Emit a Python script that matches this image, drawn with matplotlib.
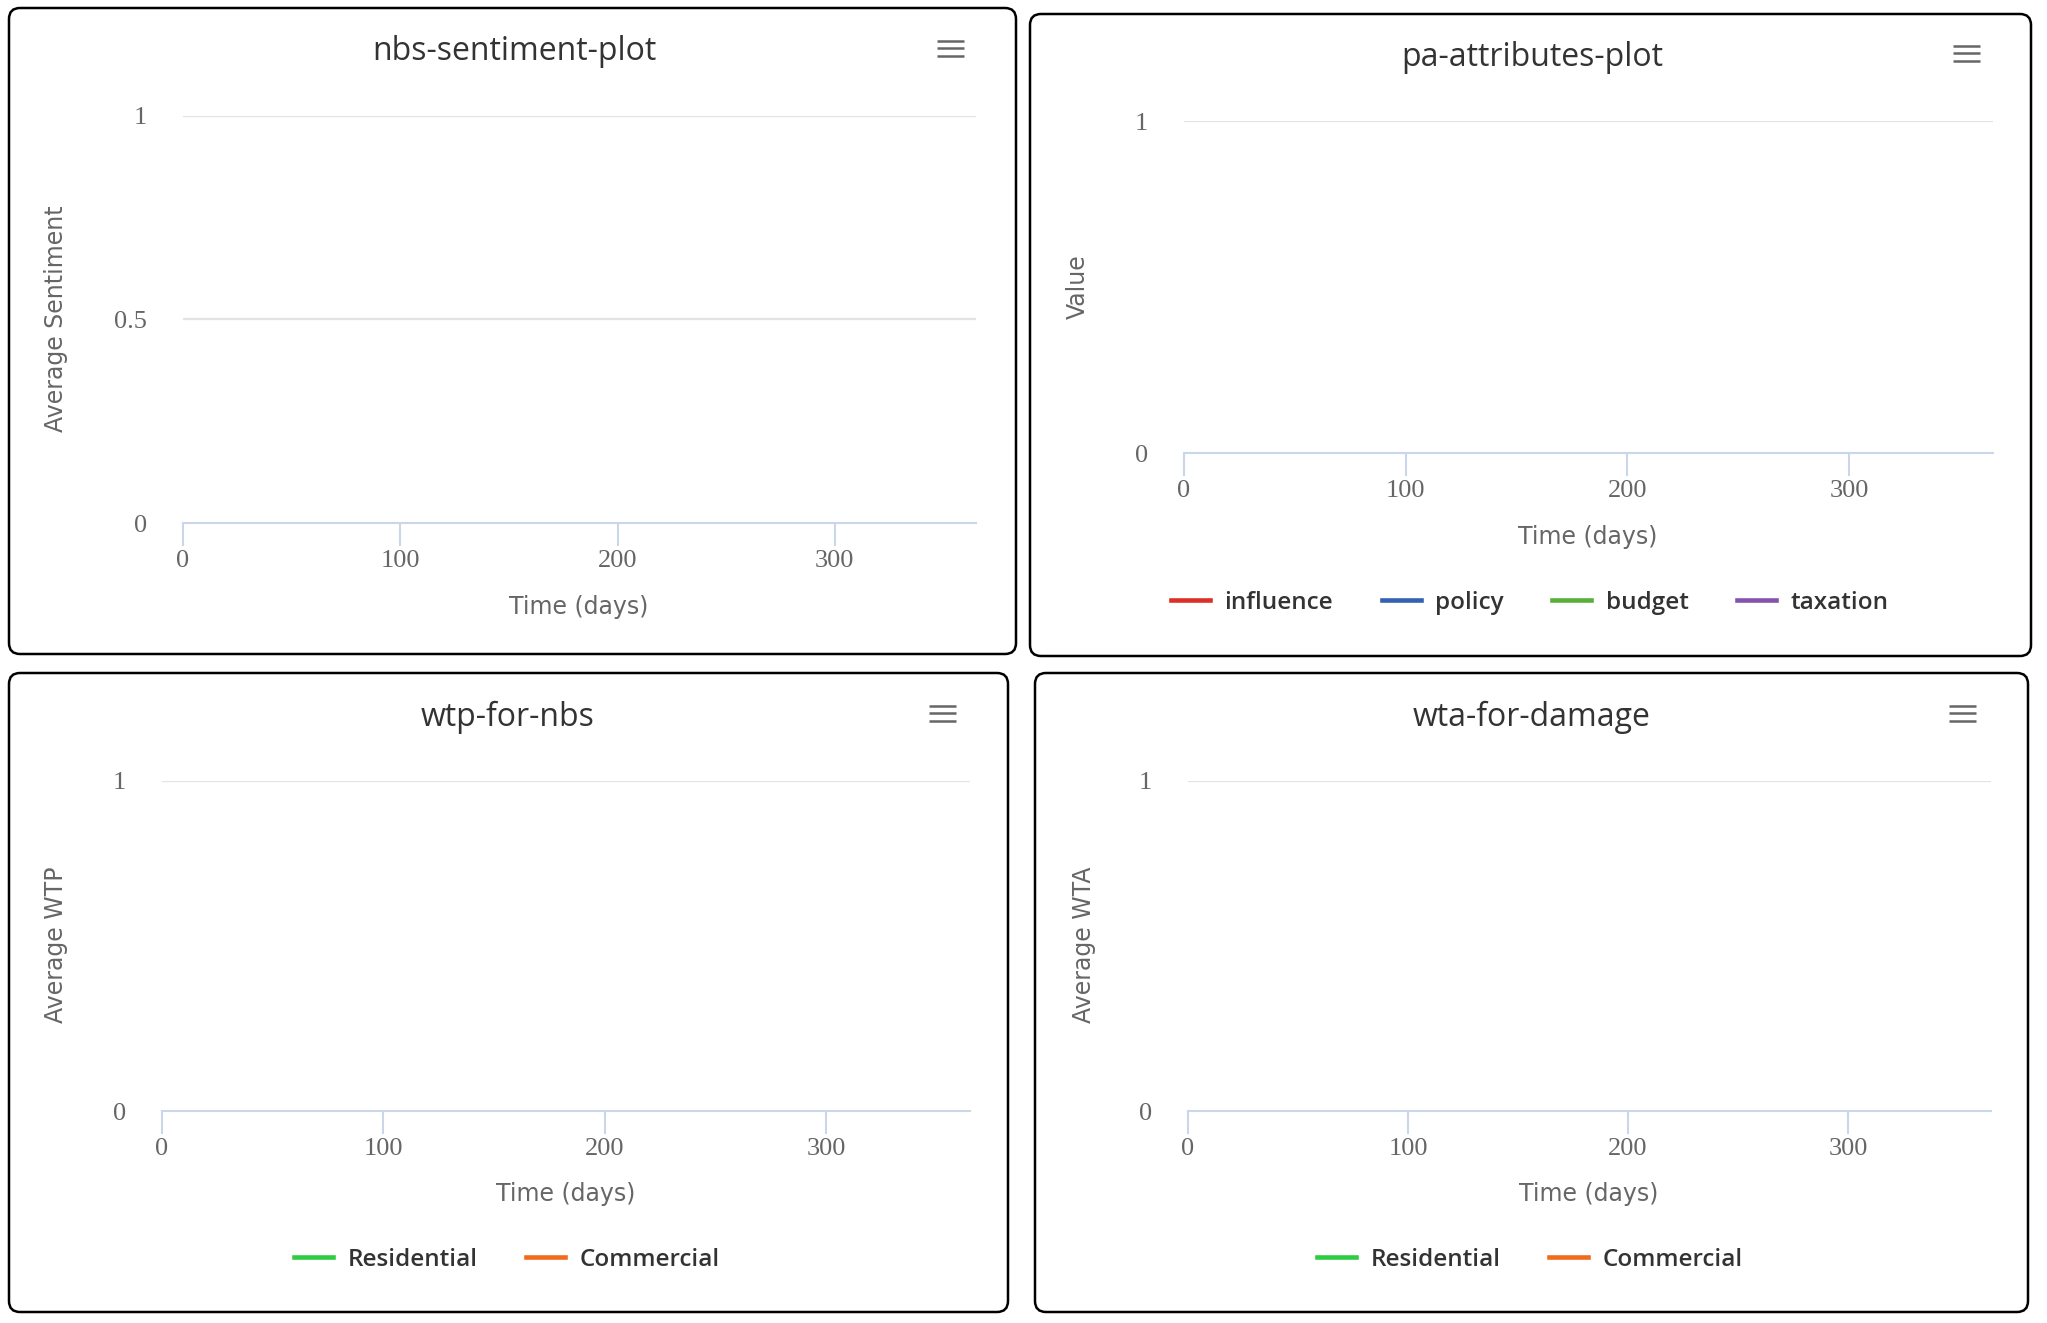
import matplotlib
matplotlib.use("Agg")
import matplotlib.pyplot as plt
from matplotlib.patches import FancyBboxPatch
from matplotlib.font_manager import FontProperties

W, H = 2047, 1323

# the model has not produced output yet, so every series is still empty
days = []
nbs_sentiment = []
pa_influence = []
pa_policy = []
pa_budget = []
pa_taxation = []
wtp_residential = []
wtp_commercial = []
wta_residential = []
wta_commercial = []

x_max = 365
x_ticks = [0, 100, 200, 300]
sentiment_ticks = [0, 0.5, 1]
value_ticks = [0, 1]

pa_names = ["influence", "policy", "budget", "taxation"]
pa_colors = ["#dc3027", "#3461b0", "#58b03a", "#8553ae"]
sector_names = ["Residential", "Commercial"]
sector_colors = ["#2ecc40", "#f26b1d"]

grid_col = "#e3e3e3"
axis_col = "#ccd6eb"
label_col = "#666666"
title_col = "#333333"

fig = plt.figure(figsize=(W / 100, H / 100), dpi=100)
fig.patch.set_facecolor("white")

# background axes in pixel units, for the panel frames, titles and menu icons
bg = fig.add_axes([0, 0, 1, 1], zorder=0)
bg.set_xlim(0, W)
bg.set_ylim(H, 0)
bg.axis("off")


def px_axes(l, t, r, b):
    ax = fig.add_axes([l / W, 1 - b / H, (r - l) / W, (b - t) / H], zorder=1)
    ax.set_facecolor("none")
    return ax


def style(ax, yticks):
    ax.set_xlim(0, x_max)
    ax.set_ylim(0, 1)
    for s in ["top", "right", "left"]:
        ax.spines[s].set_visible(False)
    ax.spines["bottom"].set_color(axis_col)
    ax.spines["bottom"].set_linewidth(1.5)
    ax.spines["bottom"].set_zorder(3)
    ax.set_xticks(x_ticks)
    ax.set_yticks(yticks)
    ax.set_yticklabels([f"{v:g}" for v in yticks])
    ax.tick_params(axis="x", direction="out", length=16.5, width=1.5,
                   color=axis_col, labelcolor=label_col, labelsize=19, pad=3)
    ax.tick_params(axis="y", length=0, labelcolor=label_col, labelsize=19, pad=26)
    for lab in ax.get_xticklabels() + ax.get_yticklabels():
        lab.set_fontfamily("Liberation Serif")
    for v in yticks:
        if v > 0:
            ax.axhline(v, color=grid_col, lw=1.6, zorder=0)


def labels(ax, xl, xpos, yl, ypos):
    ax.set_xlabel(xl, fontfamily="DejaVu Sans", fontsize=17, color=label_col)
    ax.xaxis.set_label_coords(xpos[0], xpos[1], transform=bg.transData)
    ax.xaxis.label.set_va("center")
    ax.set_ylabel(yl, fontfamily="DejaVu Sans", fontsize=17, color=label_col)
    ax.yaxis.set_label_coords(ypos[0], ypos[1], transform=bg.transData)
    ax.yaxis.label.set_va("center")


def panel(box, title, tpos, menu):
    l, t, r, b = box
    bg.add_patch(FancyBboxPatch((l, t), r - l, b - t,
                                boxstyle="round,pad=0,rounding_size=11",
                                fill=False, ec="black", lw=1.8))
    bg.text(tpos[0], tpos[1] + 4, title, ha="center", va="center",
            fontfamily="Open Sans", fontsize=23, color=title_col)
    cx, cy = menu
    for dy in (-7.5, 0, 7.5):
        bg.plot([cx - 13.5, cx + 13.5], [cy + dy, cy + dy], color=label_col,
                lw=1.8, solid_capstyle="butt")


legend_font = FontProperties(family="Open Sans", weight="semibold", size=17.5)


def legend(ax, pos, ncol):
    leg = ax.legend(loc="center", bbox_to_anchor=pos, bbox_transform=bg.transData,
                    ncol=ncol, frameon=False, prop=legend_font, labelcolor=title_col,
                    handlelength=1.6, handletextpad=0.6, columnspacing=2.0)
    for h in leg.get_lines():
        h.set_linewidth(3.3)


# nbs-sentiment-plot
panel((9, 8, 1016, 654), "nbs-sentiment-plot", (514, 48), (950, 48))
ax1 = px_axes(183, 116, 976, 523)
style(ax1, sentiment_ticks)
ax1.plot(days, nbs_sentiment, color="#2caffe", lw=2)
labels(ax1, "Time (days)", (579, 607), "Average Sentiment", (56, 319))

# pa-attributes-plot
panel((1030, 14, 2031, 656), "pa-attributes-plot", (1532, 53), (1966, 53))
ax2 = px_axes(1184, 121, 1993, 453)
style(ax2, value_ticks)
for series, name, col in zip([pa_influence, pa_policy, pa_budget, pa_taxation],
                             pa_names, pa_colors):
    ax2.plot(days, series, color=col, lw=3, label=name)
labels(ax2, "Time (days)", (1588, 537), "Value", (1078, 287))
legend(ax2, (1530, 603), 4)

# wtp-for-nbs
panel((9, 673, 1008, 1312), "wtp-for-nbs", (508, 713), (942, 713))
ax3 = px_axes(162, 781, 970, 1111)
style(ax3, value_ticks)
for series, name, col in zip([wtp_residential, wtp_commercial],
                             sector_names, sector_colors):
    ax3.plot(days, series, color=col, lw=3, label=name)
labels(ax3, "Time (days)", (566, 1194), "Average WTP", (56, 945))
legend(ax3, (507, 1260), 2)

# wta-for-damage
panel((1035, 673, 2028, 1312), "wta-for-damage", (1532, 713), (1962, 713))
ax4 = px_axes(1188, 781, 1991, 1111)
style(ax4, value_ticks)
for series, name, col in zip([wta_residential, wta_commercial],
                             sector_names, sector_colors):
    ax4.plot(days, series, color=col, lw=3, label=name)
labels(ax4, "Time (days)", (1589, 1194), "Average WTA", (1084, 945))
legend(ax4, (1530, 1260), 2)

fig.savefig("out.png", dpi=100)
